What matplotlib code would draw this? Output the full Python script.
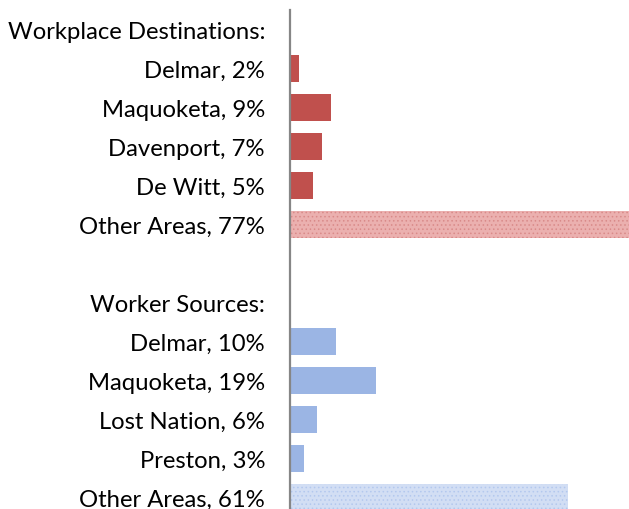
import matplotlib
matplotlib.use("Agg")
import matplotlib.pyplot as plt

# Commuting flows: where residents work and where workers come from
labels = ["Workplace Destinations:", "Delmar, 2%", "Maquoketa, 9%", "Davenport, 7%",
          "De Witt, 5%", "Other Areas, 77%", "",
          "Worker Sources:", "Delmar, 10%", "Maquoketa, 19%", "Lost Nation, 6%",
          "Preston, 3%", "Other Areas, 61%"]
dest_values = [2, 9, 7, 5, 77]
source_values = [10, 19, 6, 3, 61]

red = "#C0504D"
red_light = "#EBB0AF"
blue = "#9BB5E4"
blue_light = "#D2DEF4"

plt.rcParams["font.family"] = ["Lato", "DejaVu Sans"]
plt.rcParams["hatch.linewidth"] = 0.6

fig = plt.figure(figsize=(6.29, 5.10), dpi=100)
W, H = 629, 510
ax = fig.add_axes([290 / W, 0, (W - 290) / W, (H - 11) / H])

dest_pos = list(range(1, 6))
source_pos = list(range(8, 13))
h = 0.67

# solid bars for named places, dotted fill for "Other Areas"
ax.barh(dest_pos[:-1], dest_values[:-1], height=h, color=red, linewidth=0)
ax.barh(dest_pos[-1], dest_values[-1], height=h, facecolor=red_light,
        edgecolor="#D98A89", hatch="....", linewidth=0)
ax.barh(source_pos[:-1], source_values[:-1], height=h, color=blue, linewidth=0)
ax.barh(source_pos[-1], source_values[-1], height=h, facecolor=blue_light,
        edgecolor="#B3C8EE", hatch="....", linewidth=0)

ax.set_xlim(0, 74.5)
ax.set_ylim(12.295, -0.5)
ax.set_yticks(range(len(labels)))
ax.set_yticklabels(labels, fontsize=17.2, color="black")
ax.tick_params(axis="y", length=0, pad=18)
ax.set_xticks([])

for side in ("top", "right", "bottom"):
    ax.spines[side].set_visible(False)
ax.spines["left"].set_color("#868686")
ax.spines["left"].set_linewidth(1.6)

fig.savefig("out.png", dpi=100)
